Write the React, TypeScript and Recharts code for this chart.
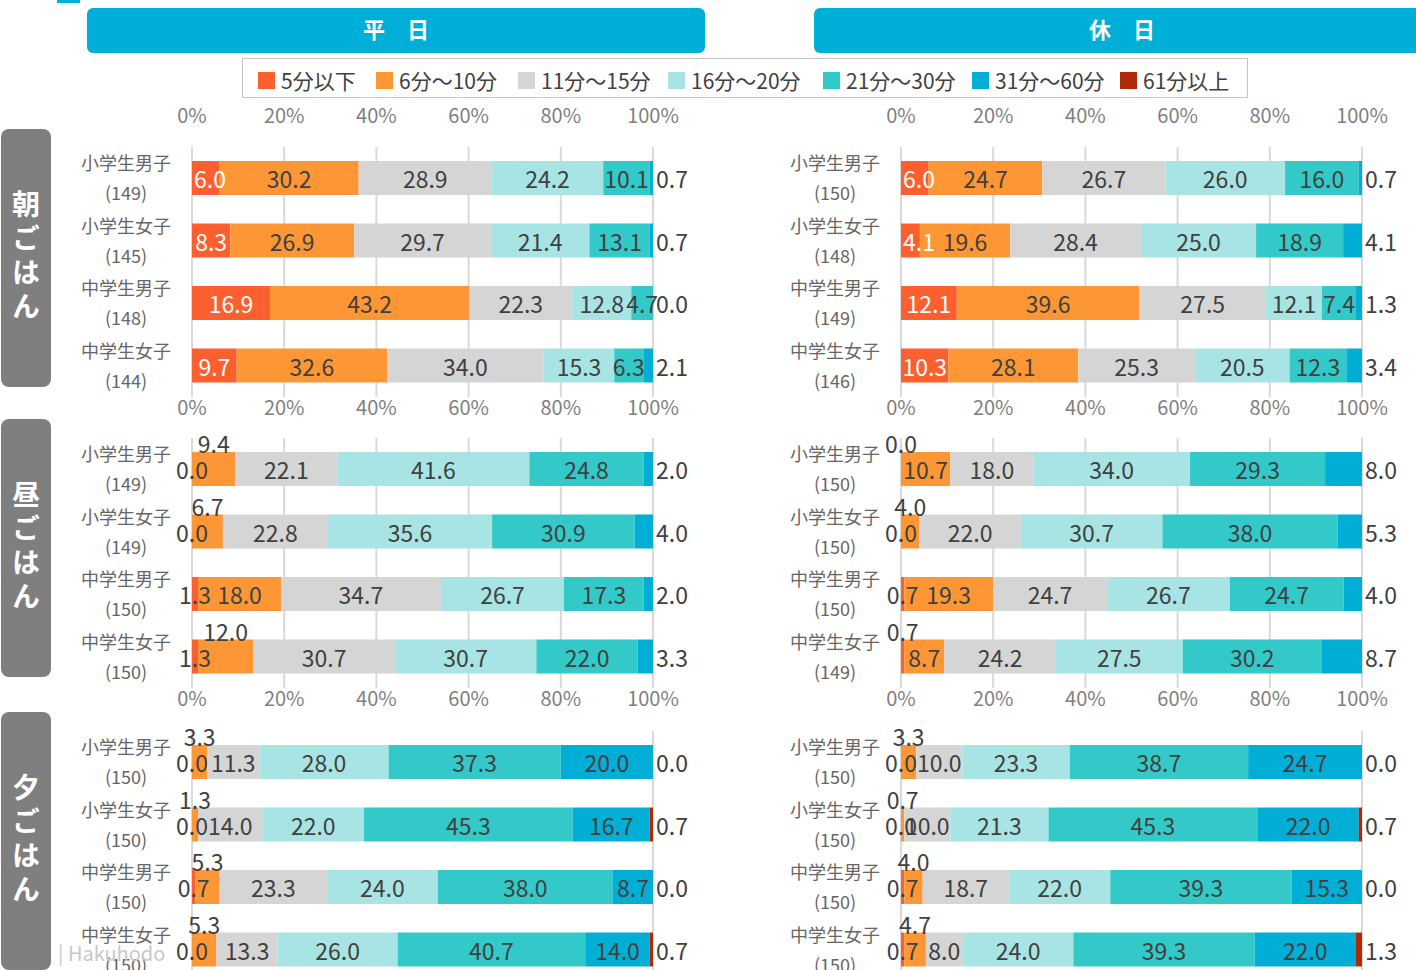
import React from 'react'
import { BarChart, Bar, XAxis, YAxis, CartesianGrid, LabelList } from 'recharts'

const FONT = '"Noto Sans CJK JP", "Noto Sans", sans-serif'

const seriesNames = ['5分以下', '6分〜10分', '11分〜15分', '16分〜20分', '21分〜30分', '31分〜60分', '61分以上']
const seriesColors = ['#fe5f2f', '#fd9735', '#d5d5d5', '#a8e4e4', '#32c9c8', '#00aed6', '#b02a07']
const groups = ['小学生男子', '小学生女子', '中学生男子', '中学生女子']
const pctTicks = [0, 0.2, 0.4, 0.6, 0.8, 1]

// sample sizes per row
const breakfastWeekdayN = [149, 145, 148, 144]
const breakfastHolidayN = [150, 148, 149, 146]
const lunchWeekdayN = [149, 149, 150, 150]
const lunchHolidayN = [150, 150, 150, 149]
const dinnerWeekdayN = [150, 150, 150, 150]
const dinnerHolidayN = [150, 150, 150, 150]

// shares (%) per row, in the order of seriesNames
const breakfastWeekday = [
  [6.0, 30.2, 28.9, 24.2, 10.1, 0.7],
  [8.3, 26.9, 29.7, 21.4, 13.1, 0.7],
  [16.9, 43.2, 22.3, 12.8, 4.7, 0.0],
  [9.7, 32.6, 34.0, 15.3, 6.3, 2.1],
]
const breakfastHoliday = [
  [6.0, 24.7, 26.7, 26.0, 16.0, 0.7],
  [4.1, 19.6, 28.4, 25.0, 18.9, 4.1],
  [12.1, 39.6, 27.5, 12.1, 7.4, 1.3],
  [10.3, 28.1, 25.3, 20.5, 12.3, 3.4],
]
const lunchWeekday = [
  [0.0, 9.4, 22.1, 41.6, 24.8, 2.0],
  [0.0, 6.7, 22.8, 35.6, 30.9, 4.0],
  [1.3, 18.0, 34.7, 26.7, 17.3, 2.0],
  [1.3, 12.0, 30.7, 30.7, 22.0, 3.3],
]
const lunchHoliday = [
  [0.0, 10.7, 18.0, 34.0, 29.3, 8.0],
  [0.0, 4.0, 22.0, 30.7, 38.0, 5.3],
  [0.7, 19.3, 24.7, 26.7, 24.7, 4.0],
  [0.7, 8.7, 24.2, 27.5, 30.2, 8.7],
]
const dinnerWeekday = [
  [0.0, 3.3, 11.3, 28.0, 37.3, 20.0, 0.0],
  [0.0, 1.3, 14.0, 22.0, 45.3, 16.7, 0.7],
  [0.7, 5.3, 23.3, 24.0, 38.0, 8.7, 0.0],
  [0.0, 5.3, 13.3, 26.0, 40.7, 14.0, 0.7],
]
const dinnerHoliday = [
  [0.0, 3.3, 10.0, 23.3, 38.7, 24.7, 0.0],
  [0.0, 0.7, 10.0, 21.3, 45.3, 22.0, 0.7],
  [0.7, 4.0, 18.7, 22.0, 39.3, 15.3, 0.0],
  [0.7, 4.7, 8.0, 24.0, 39.3, 22.0, 1.3],
]

// which series label sits above the bar in each row (-1 = none)
const noneRaised = [-1, -1, -1, -1]
const lunchWeekdayRaised = [1, 1, -1, 1]
const lunchHolidayRaised = [0, 1, -1, 0]
const dinnerRaised = [1, 1, 1, 1]

const YW = 132
const PLOT_W = 461
const PLOT_H = 250
const TOP_H = 44
const M_TOP = 22

const pct = (v: number) => `${Math.round(v * 100)}%`

const GroupTick = (props: any) => {
  const { x, y, payload, counts } = props
  const i = payload.index ?? props.index
  return (
    <g fontFamily={FONT} fontSize={18} fill="#666">
      <text x={x - 66} y={y - 16} textAnchor="middle" dominantBaseline="central">{payload.value}</text>
      <text x={x - 66} y={y + 14} textAnchor="middle" dominantBaseline="central">({counts[i]})</text>
    </g>
  )
}

// one data label; sx/w are the segment's start and width in pixels
function segLabel(j: number, row: number[], raisedIdx: number, whiteFirst: boolean, sx: number, w: number, y: number, h: number) {
  const v = row[j]
  const last = j === row.length - 1
  let tx = sx + w / 2
  let ty = y + h / 2
  let anchor: 'middle' | 'start' = 'middle'
  const white = j === 0 && whiteFirst && v >= 4
  if (last) {
    tx = sx + w + 3
    anchor = 'start'
  } else if (raisedIdx === j) {
    ty = y - 9
  }
  if (white) tx = Math.max(tx, YW + 18)
  return (
    <text key={j} x={tx} y={ty} textAnchor={anchor} dominantBaseline="central" fontSize={23}
      fill={white ? '#fff' : '#404040'} fontFamily={FONT}>
      {v.toFixed(1)}
    </text>
  )
}

const makeLabel = (k: number, values: number[][], raised: number[], whiteFirst: boolean, plotTopC: number) => (props: any) => {
  const { x, y, width, height } = props
  const r = Math.floor((y + height / 2 - plotTopC) / (PLOT_H / values.length))
  const row = values[r]
  if (!row) return null
  const out = [segLabel(k, row, raised[r], whiteFirst, x, width, y, height)]
  // zero-valued segments draw nothing, so their labels ride on a neighbour
  for (let j = k - 1; j >= 0 && row[j] === 0; j--) out.push(segLabel(j, row, raised[r], whiteFirst, x, 0, y, height))
  if (row.slice(k + 1).every((v) => v === 0)) {
    for (let j = k + 1; j < row.length; j++) out.push(segLabel(j, row, raised[r], whiteFirst, x + width, 0, y, height))
  }
  return <g>{out}</g>
}

interface PanelProps {
  values: number[][]
  counts: number[]
  raised: number[]
  plotLeft: number
  plotTop: number
  topAxis?: boolean
  bottomTicks?: boolean
  whiteFirst?: boolean
}

function Panel({ values, counts, raised, plotLeft, plotTop, topAxis, bottomTicks = true, whiteFirst }: PanelProps) {
  const data = values.map((row, i) => {
    const o: any = { name: groups[i] }
    row.forEach((v, k) => (o['s' + k] = v))
    return o
  })
  const topH = topAxis ? TOP_H : 0
  const margin = { top: M_TOP, right: 55, bottom: 0, left: 0 }
  const width = YW + PLOT_W + margin.right
  const height = M_TOP + topH + PLOT_H + 30
  const tickStyle = { fontSize: 20, fill: '#7f7f7f', fontFamily: FONT }
  return (
    <div style={{ position: 'absolute', left: plotLeft - YW, top: plotTop - M_TOP - topH }}>
      <BarChart layout="vertical" width={width} height={height} data={data} margin={margin} stackOffset="expand" barSize={34}>
        <CartesianGrid horizontal={false} stroke="#d9d9d9" strokeWidth={2} />
        <XAxis type="number" domain={[0, 1]} ticks={pctTicks} tickFormatter={pct} allowDataOverflow
          axisLine={false} tickLine={false} tickSize={0} tickMargin={4} height={30}
          tick={bottomTicks ? tickStyle : false} interval={0} />
        {topAxis && (
          <XAxis xAxisId="top" orientation="top" type="number" domain={[0, 1]} ticks={pctTicks} tickFormatter={pct}
            allowDataOverflow axisLine={false} tickLine={false} tickSize={0} tickMargin={24} height={topH} tick={tickStyle} interval={0} />
        )}
        <YAxis type="category" dataKey="name" width={YW} axisLine={false} tickLine={false} tickSize={0} tickMargin={0}
          tick={<GroupTick counts={counts} />} interval={0} />
        {values[0].map((_, k) => (
          <Bar key={k} dataKey={'s' + k} name={seriesNames[k]} stackId="a" fill={seriesColors[k]} isAnimationActive={false}>
            <LabelList dataKey={'s' + k} content={makeLabel(k, values, raised, !!whiteFirst, M_TOP + topH)} />
          </Bar>
        ))}
      </BarChart>
    </div>
  )
}

const Header = ({ left, width, text }: { left: number; width: number; text: string }) => (
  <div style={{
    position: 'absolute', left, top: 8, width, height: 45, background: '#00afd8', borderRadius: 6,
    color: '#fff', fontWeight: 700, fontSize: 22, display: 'flex', alignItems: 'center', justifyContent: 'center',
    paddingBottom: 5, boxSizing: 'border-box',
  }}>{text}</div>
)

const SideLabel = ({ top, text }: { top: number; text: string }) => (
  <div style={{
    position: 'absolute', left: 1, top, width: 50, height: 258, background: '#7f7f7f', borderRadius: 8,
    color: '#fff', fontWeight: 700, fontSize: 28, display: 'flex', alignItems: 'center', justifyContent: 'center',
  }}>
    <span style={{ writingMode: 'vertical-rl', letterSpacing: 6 }}>{text}</span>
  </div>
)

const legendX = [258, 376, 518, 668, 823, 972, 1120]

export default function App() {
  const WD = 192
  const HD = 901
  return (
    <div style={{ position: 'absolute', left: 0, top: 0, width: 1416, height: 970, overflow: 'hidden', background: '#fff', fontFamily: FONT }}>
      <div style={{ position: 'absolute', left: 57, top: 0, width: 23, height: 3, background: '#00afd8' }} />
      <Header left={87} width={618} text="平　日" />
      <Header left={814} width={616} text="休　日" />

      <div style={{ position: 'absolute', left: 242, top: 58, width: 1004, height: 38, border: '1px solid #c4c4c4' }} />
      {seriesNames.map((n, i) => (
        <div key={n} style={{
          position: 'absolute', left: legendX[i], top: 66, height: 28, display: 'flex', alignItems: 'center', gap: 6,
          fontSize: 21, color: '#404040', whiteSpace: 'nowrap',
        }}>
          <div style={{ width: 17, height: 17, background: seriesColors[i] }} />
          <span>{n}</span>
        </div>
      ))}

      <SideLabel top={129} text="朝ごはん" />
      <SideLabel top={419} text="昼ごはん" />
      <SideLabel top={712} text="夕ごはん" />

      <Panel values={breakfastWeekday} counts={breakfastWeekdayN} raised={noneRaised} plotLeft={WD} plotTop={147} topAxis whiteFirst />
      <Panel values={breakfastHoliday} counts={breakfastHolidayN} raised={noneRaised} plotLeft={HD} plotTop={147} topAxis whiteFirst />
      <Panel values={lunchWeekday} counts={lunchWeekdayN} raised={lunchWeekdayRaised} plotLeft={WD} plotTop={438} />
      <Panel values={lunchHoliday} counts={lunchHolidayN} raised={lunchHolidayRaised} plotLeft={HD} plotTop={438} />
      <Panel values={dinnerWeekday} counts={dinnerWeekdayN} raised={dinnerRaised} plotLeft={WD} plotTop={731} bottomTicks={false} />
      <Panel values={dinnerHoliday} counts={dinnerHolidayN} raised={dinnerRaised} plotLeft={HD} plotTop={731} bottomTicks={false} />

      <div style={{ position: 'absolute', left: 58, top: 938, fontSize: 20, color: '#c8c8c8', fontFamily: FONT }}>| Hakuhodo</div>
    </div>
  )
}
